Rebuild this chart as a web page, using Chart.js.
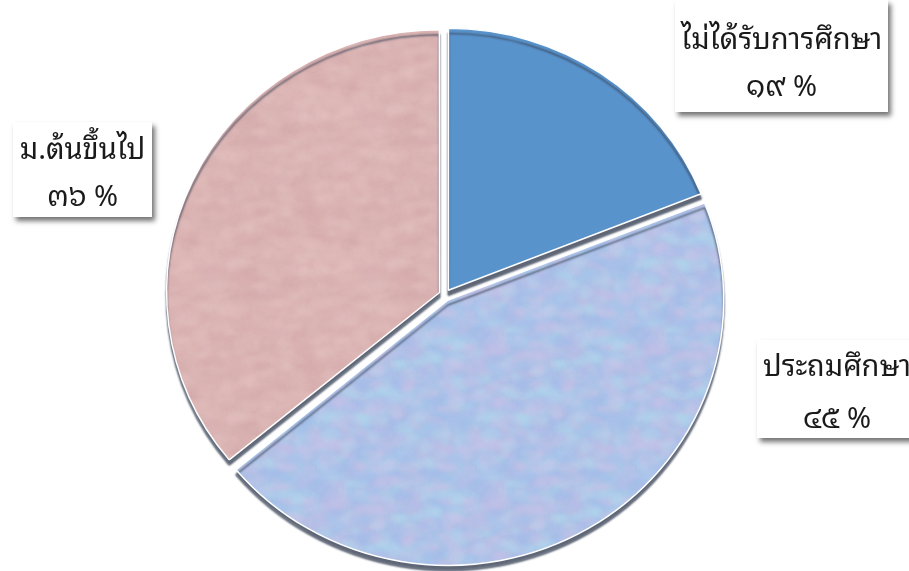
<!DOCTYPE html>
<html>
<head>
<meta charset="utf-8">
<script src="https://cdn.jsdelivr.net/npm/chart.js@4.4.1/dist/chart.umd.min.js"></script>
<style>
  html, body { margin: 0; padding: 0; background: #ffffff; }
  #wrap { width: 909px; height: 571px; position: relative; overflow: hidden; }
</style>
</head>
<body>
<div id="wrap"><canvas id="c" width="909" height="571"></canvas></div>
<script>
// ---- data ----
const categories = ['ไม่ได้รับการศึกษา', 'ประถมศึกษา', 'ม.ต้นขึ้นไป'];
const values = [19, 45, 36];
const valueLabels = ['๑๙ %', '๔๕ %', '๓๖ %'];

// ---- styles / layout ----
const thaiFont = '"Noto Sans Thai Looped", "Loma", "Garuda", "Norasi", "Noto Serif Thai", "Noto Sans Thai", Tahoma, sans-serif';
const squash = 0.963;
const centerY = 295;

// deterministic mottled texture (style only)
function mottled(base, tints, seed, aMin, aVar) {
  const c = document.createElement('canvas');
  c.width = 160; c.height = 160;
  const g = c.getContext('2d');
  g.fillStyle = base;
  g.fillRect(0, 0, 160, 160);
  let s = seed;
  const rnd = () => { s = (s * 1103515245 + 12345) % 2147483648; return s / 2147483648; };
  g.filter = 'blur(2px)';
  for (let i = 0; i < 900; i++) {
    const x = rnd() * 160, y = rnd() * 160, r = 2 + rnd() * 5;
    g.globalAlpha = aMin + rnd() * aVar;
    g.fillStyle = tints[Math.floor(rnd() * tints.length)];
    for (const dx of [-160, 0, 160]) for (const dy of [-160, 0, 160]) {
      g.beginPath();
      g.ellipse(x + dx, y + dy, r * 1.6, r, 0, 0, Math.PI * 2);
      g.fill();
    }
  }
  g.filter = 'none';
  g.globalAlpha = 1;
  return c.getContext('2d').createPattern(c, 'repeat');
}

const blueFace = '#5993CC';
const lightFace = mottled('#B2CAEC', ['#9DBCEB', '#C9BFE6', '#B3DCEF', '#A6C0EA', '#D2C4EA'], 7, 0.18, 0.2);
const pinkFace = mottled('#DEB8B7', ['#D5A9AA', '#E8CAC8', '#DAB0B1', '#E4C1BF'], 13, 0.12, 0.15);
const sliceColors = [blueFace, lightFace, pinkFace];

const ellipsePlugin = {
  id: 'ellipse',
  beforeDatasetsDraw(chart) {
    const ctx = chart.ctx;
    ctx.save();
    ctx.translate(0, centerY);
    ctx.scale(1, squash);
    ctx.translate(0, -centerY);
    ctx.shadowColor = 'rgba(55,65,85,0.8)';
    ctx.shadowOffsetX = 0;
    ctx.shadowOffsetY = 5;
    ctx.shadowBlur = 2;
  },
  afterDatasetsDraw(chart) {
    chart.ctx.restore();
  }
};

const boxPlugin = {
  id: 'labelBoxes',
  afterDraw(chart, args, opts) {
    const ctx = chart.ctx;
    opts.boxes.forEach((b, i) => {
      ctx.save();
      ctx.shadowColor = 'rgba(0,0,0,0.55)';
      ctx.shadowOffsetX = 3;
      ctx.shadowOffsetY = 4;
      ctx.shadowBlur = 5;
      ctx.fillStyle = '#ffffff';
      ctx.fillRect(b.x, b.y, b.w, b.h);
      ctx.restore();
      ctx.save();
      ctx.fillStyle = '#1a1a1a';
      ctx.textAlign = 'center';
      ctx.textBaseline = 'alphabetic';
      ctx.font = '29px ' + thaiFont;
      const cx = b.x + b.w / 2;
      ctx.fillText(categories[i], cx, b.l1);
      ctx.fillText(valueLabels[i], cx, b.l2);
      ctx.restore();
    });
  }
};

new Chart(document.getElementById('c'), {
  type: 'pie',
  data: {
    labels: categories,
    datasets: [{
      data: values,
      backgroundColor: sliceColors,
      borderColor: '#ffffff',
      borderWidth: 1.5,
      offset: 24,
      radius: 271.5,
      clip: false
    }]
  },
  options: {
    responsive: false,
    animation: false,
    events: [],
    layout: { padding: { left: 0, right: 19, top: 19, bottom: 0 } },
    plugins: {
      legend: { display: false },
      tooltip: { enabled: false },
      labelBoxes: {
        boxes: [
          { x: 675, y: 0, w: 213, h: 112, l1: 49, l2: 96 },
          { x: 757, y: 340, w: 160, h: 98, l1: 376, l2: 428 },
          { x: 13, y: 122, w: 139, h: 95, l1: 159, l2: 206 }
        ]
      }
    }
  },
  plugins: [ellipsePlugin, boxPlugin]
});
</script>
</body>
</html>
